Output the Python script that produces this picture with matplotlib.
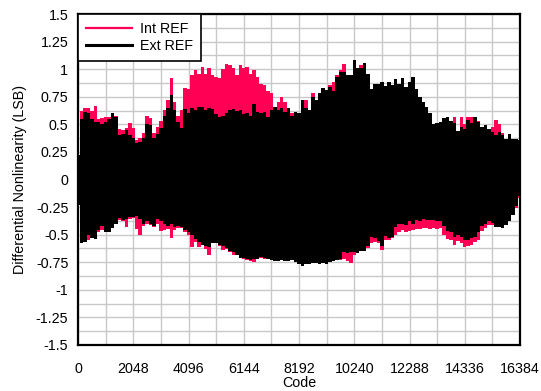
import numpy as np
import matplotlib
matplotlib.use("Agg")
import matplotlib.pyplot as plt
from matplotlib.ticker import MultipleLocator

plt.rcParams['font.family'] = ['Liberation Sans', 'DejaVu Sans']

# Envelope samples every 128 codes (0..16384)
codes = np.arange(0, 16385, 128)

ext_upper = [0.22, 0.55, 0.61, 0.60, 0.55, 0.52, 0.52, 0.50, 0.52, 0.55, 0.60, 0.57, 0.40, 0.41, 0.45, 0.40,
             0.38, 0.33, 0.34, 0.38, 0.50, 0.49, 0.38, 0.41, 0.47, 0.58, 0.65, 0.77, 0.63, 0.52, 0.47, 0.64,
             0.60, 0.65, 0.63, 0.66, 0.66, 0.63, 0.65, 0.64, 0.59, 0.57, 0.58, 0.60, 0.63, 0.64, 0.62, 0.63,
             0.59, 0.60, 0.58, 0.68, 0.61, 0.60, 0.61, 0.57, 0.63, 0.66, 0.63, 0.65, 0.61, 0.65, 0.58, 0.61,
             0.60, 0.72, 0.65, 0.63, 0.75, 0.72, 0.78, 0.83, 0.81, 0.84, 0.80, 0.93, 0.97, 0.97, 0.95, 0.95,
             1.08, 1.01, 1.01, 1.06, 0.96, 0.82, 0.87, 0.87, 0.88, 0.85, 0.88, 0.86, 0.91, 0.87, 0.92, 0.84,
             0.88, 0.93, 0.82, 0.75, 0.70, 0.66, 0.60, 0.50, 0.51, 0.52, 0.56, 0.57, 0.53, 0.51, 0.44, 0.48,
             0.46, 0.54, 0.51, 0.57, 0.52, 0.48, 0.49, 0.46, 0.43, 0.40, 0.43, 0.40, 0.37, 0.41, 0.37, 0.37,
             0.36]

int_upper = [0.22, 0.62, 0.65, 0.65, 0.62, 0.67, 0.55, 0.56, 0.57, 0.57, 0.60, 0.58, 0.46, 0.45, 0.47, 0.51,
             0.47, 0.36, 0.38, 0.42, 0.58, 0.56, 0.42, 0.48, 0.53, 0.63, 0.72, 0.92, 0.70, 0.58, 0.63, 0.83,
             0.82, 0.95, 0.99, 0.96, 1.02, 0.96, 1.01, 0.95, 0.93, 0.92, 1.00, 1.05, 1.04, 1.01, 0.95, 1.04,
             1.01, 1.02, 0.96, 0.99, 0.93, 0.87, 0.86, 0.80, 0.78, 0.66, 0.70, 0.75, 0.70, 0.64, 0.60, 0.60,
             0.58, 0.65, 0.72, 0.63, 0.78, 0.72, 0.78, 0.80, 0.80, 0.86, 0.88, 0.95, 0.99, 1.05, 0.95, 0.94,
             1.02, 1.00, 1.04, 1.03, 0.96, 0.82, 0.85, 0.86, 0.82, 0.84, 0.86, 0.85, 0.88, 0.86, 0.90, 0.83,
             0.86, 0.92, 0.82, 0.74, 0.69, 0.65, 0.59, 0.49, 0.50, 0.51, 0.55, 0.56, 0.53, 0.57, 0.44, 0.57,
             0.50, 0.57, 0.57, 0.57, 0.53, 0.48, 0.48, 0.45, 0.48, 0.54, 0.50, 0.42, 0.36, 0.40, 0.36, 0.36,
             0.35]

ext_lower = [-0.23, -0.58, -0.57, -0.50, -0.53, -0.54, -0.46, -0.42, -0.48, -0.48, -0.44, -0.40, -0.35, -0.37, -0.36, -0.34,
             -0.34, -0.33, -0.36, -0.40, -0.38, -0.40, -0.42, -0.36, -0.38, -0.40, -0.42, -0.40, -0.43, -0.42, -0.43, -0.46,
             -0.48, -0.50, -0.54, -0.57, -0.59, -0.60, -0.61, -0.58, -0.58, -0.59, -0.60, -0.62, -0.65, -0.66, -0.68, -0.71,
             -0.71, -0.72, -0.73, -0.72, -0.72, -0.70, -0.71, -0.72, -0.73, -0.74, -0.74, -0.73, -0.74, -0.74, -0.73, -0.75,
             -0.77, -0.78, -0.77, -0.77, -0.76, -0.76, -0.77, -0.76, -0.77, -0.75, -0.74, -0.73, -0.72, -0.66, -0.67, -0.66,
             -0.66, -0.67, -0.65, -0.65, -0.60, -0.52, -0.53, -0.56, -0.60, -0.51, -0.53, -0.52, -0.43, -0.40, -0.40, -0.41,
             -0.38, -0.40, -0.37, -0.38, -0.36, -0.37, -0.37, -0.37, -0.38, -0.38, -0.42, -0.47, -0.48, -0.52, -0.50, -0.52,
             -0.55, -0.55, -0.53, -0.52, -0.48, -0.42, -0.40, -0.38, -0.39, -0.43, -0.43, -0.44, -0.41, -0.38, -0.32, -0.24,
             -0.15]

int_lower = [-0.23, -0.58, -0.55, -0.55, -0.53, -0.54, -0.48, -0.46, -0.48, -0.48, -0.44, -0.40, -0.37, -0.38, -0.43, -0.36,
             -0.35, -0.45, -0.50, -0.42, -0.40, -0.41, -0.43, -0.40, -0.47, -0.46, -0.45, -0.53, -0.46, -0.44, -0.44, -0.48,
             -0.50, -0.61, -0.57, -0.61, -0.58, -0.63, -0.68, -0.58, -0.58, -0.60, -0.64, -0.63, -0.66, -0.68, -0.67, -0.70,
             -0.72, -0.73, -0.74, -0.75, -0.71, -0.71, -0.72, -0.72, -0.72, -0.73, -0.73, -0.73, -0.73, -0.74, -0.73, -0.74,
             -0.76, -0.76, -0.76, -0.76, -0.75, -0.75, -0.76, -0.75, -0.76, -0.74, -0.73, -0.72, -0.73, -0.72, -0.74, -0.76,
             -0.68, -0.67, -0.65, -0.64, -0.62, -0.58, -0.57, -0.58, -0.64, -0.55, -0.55, -0.53, -0.50, -0.48, -0.46, -0.48,
             -0.47, -0.46, -0.45, -0.45, -0.44, -0.44, -0.45, -0.44, -0.45, -0.44, -0.50, -0.54, -0.55, -0.59, -0.56, -0.58,
             -0.61, -0.60, -0.59, -0.57, -0.55, -0.47, -0.44, -0.41, -0.41, -0.43, -0.43, -0.44, -0.41, -0.38, -0.32, -0.26,
             -0.17]

x_ticks = [0, 2048, 4096, 6144, 8192, 10240, 12288, 14336, 16384]
x_ticklabels = ['0', '2048', '4096', '6144', '8192', '10240', '12288', '14336', '16384']
y_ticks = [1.5, 1.25, 1, 0.75, 0.5, 0.25, 0, -0.25, -0.5, -0.75, -1, -1.25, -1.5]
y_ticklabels = ['1.5', '1.25', '1', '0.75', '0.5', '0.25', '0', '-0.25', '-0.5', '-0.75', '-1', '-1.25', '-1.5']

RED = '#FF0055'
FS = 10.3

fig = plt.figure(figsize=(5.41, 3.91), dpi=100)
ax = fig.add_axes([78/541, 1 - 345/391, 442/541, 331/391])

ax.fill_between(codes, int_lower, int_upper, step='mid', color=RED, linewidth=0, zorder=2)
ax.fill_between(codes, ext_lower, ext_upper, step='mid', color='black', linewidth=0, zorder=3)

# legend proxies
ax.plot([], [], color=RED, lw=1.6, label='Int REF')
ax.plot([], [], color='black', lw=2.2, label='Ext REF')

ax.set_xlim(0, 16384)
ax.set_ylim(-1.5, 1.5)
ax.set_xticks(x_ticks)
ax.set_xticklabels(x_ticklabels)
ax.set_yticks(y_ticks)
ax.set_yticklabels(y_ticklabels)
ax.xaxis.set_minor_locator(MultipleLocator(1024))
ax.yaxis.set_minor_locator(MultipleLocator(0.125))
ax.grid(True, which='both', color='#C8C8C8', linewidth=1.0, zorder=0)
ax.set_axisbelow(True)
ax.tick_params(which='both', length=0, labelsize=FS, colors='black')
ax.tick_params(axis='x', pad=12)
ax.tick_params(axis='y', pad=7)

for s in ax.spines.values():
    s.set_linewidth(1.6)
    s.set_color('black')
    s.set_zorder(5)

ax.set_xlabel('Code', fontsize=FS, labelpad=0)
ax.set_ylabel('Differential Nonlinearity (LSB)', fontsize=FS, labelpad=6)

leg = ax.legend(loc='upper left', bbox_to_anchor=(0, 1), borderaxespad=0,
                fancybox=False, framealpha=1, edgecolor='black', fontsize=FS,
                handlelength=3.2, handletextpad=0.6, borderpad=0.55, labelspacing=0.25)
leg.get_frame().set_linewidth(1.2)
leg.set_zorder(6)

fig.savefig('out.png', dpi=100)
